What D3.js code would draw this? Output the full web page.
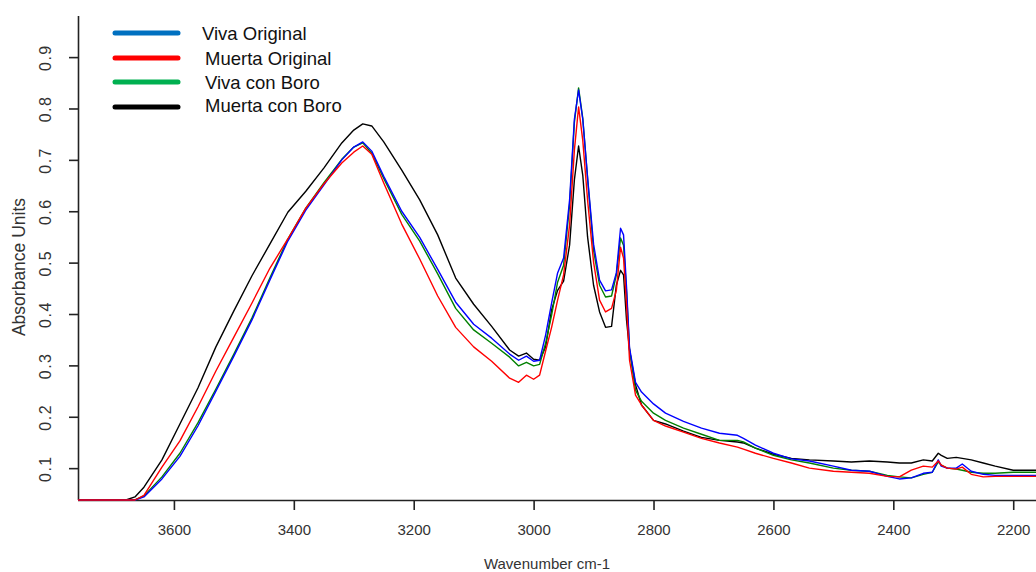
<!DOCTYPE html>
<html>
<head>
<meta charset="utf-8">
<script src="https://cdn.jsdelivr.net/npm/d3@7"></script>
<style>
  body { margin: 0; background: #fff; }
  text { font-family: "Liberation Sans", Arial, sans-serif; }
</style>
</head>
<body>
<div id="chart"></div>
<script>
// wavenumbers (cm-1) shared by all spectra
const wavenumbers = [3760, 3680, 3665, 3650, 3620, 3590, 3560, 3530, 3500, 3470, 3440, 3410, 3380, 3350, 3320, 3300, 3285, 3270, 3250, 3220, 3190, 3160, 3130, 3100, 3070, 3040, 3025, 3012, 3000, 2990, 2980, 2970, 2960, 2950, 2940, 2932, 2925, 2918, 2910, 2900, 2890, 2880, 2870, 2862, 2855, 2850, 2845, 2840, 2830, 2820, 2800, 2780, 2750, 2720, 2690, 2660, 2650, 2630, 2600, 2570, 2540, 2500, 2470, 2440, 2410, 2390, 2370, 2350, 2335, 2325, 2320, 2310, 2295, 2285, 2270, 2250, 2230, 2200, 2162];

const vivaOriginal = [0.038, 0.038, 0.038, 0.044, 0.079, 0.123, 0.182, 0.250, 0.318, 0.388, 0.466, 0.542, 0.602, 0.651, 0.700, 0.725, 0.735, 0.717, 0.668, 0.600, 0.549, 0.487, 0.423, 0.380, 0.353, 0.322, 0.310, 0.318, 0.308, 0.310, 0.359, 0.421, 0.480, 0.509, 0.622, 0.779, 0.836, 0.779, 0.666, 0.536, 0.466, 0.445, 0.447, 0.480, 0.567, 0.554, 0.452, 0.334, 0.267, 0.248, 0.225, 0.207, 0.191, 0.178, 0.168, 0.164, 0.158, 0.145, 0.129, 0.118, 0.114, 0.104, 0.096, 0.094, 0.084, 0.079, 0.081, 0.090, 0.092, 0.116, 0.104, 0.100, 0.100, 0.108, 0.094, 0.088, 0.086, 0.086, 0.086];

const muertaOriginal = [0.038, 0.038, 0.038, 0.047, 0.102, 0.153, 0.219, 0.289, 0.355, 0.421, 0.489, 0.546, 0.606, 0.653, 0.694, 0.715, 0.727, 0.711, 0.655, 0.575, 0.507, 0.435, 0.374, 0.336, 0.308, 0.275, 0.267, 0.281, 0.273, 0.281, 0.328, 0.374, 0.427, 0.476, 0.573, 0.719, 0.803, 0.738, 0.622, 0.501, 0.427, 0.404, 0.411, 0.446, 0.530, 0.509, 0.417, 0.310, 0.242, 0.223, 0.193, 0.182, 0.170, 0.158, 0.149, 0.141, 0.137, 0.129, 0.119, 0.110, 0.100, 0.094, 0.092, 0.090, 0.084, 0.083, 0.096, 0.104, 0.102, 0.114, 0.106, 0.100, 0.098, 0.102, 0.088, 0.083, 0.084, 0.084, 0.084];

const vivaBoro = [0.038, 0.038, 0.038, 0.046, 0.083, 0.129, 0.188, 0.254, 0.322, 0.392, 0.470, 0.546, 0.606, 0.655, 0.701, 0.725, 0.733, 0.713, 0.664, 0.594, 0.542, 0.478, 0.411, 0.369, 0.343, 0.316, 0.299, 0.306, 0.299, 0.302, 0.343, 0.398, 0.462, 0.495, 0.612, 0.773, 0.840, 0.781, 0.664, 0.524, 0.456, 0.433, 0.435, 0.476, 0.548, 0.534, 0.443, 0.330, 0.252, 0.230, 0.207, 0.193, 0.178, 0.166, 0.154, 0.154, 0.151, 0.139, 0.125, 0.116, 0.110, 0.100, 0.096, 0.094, 0.086, 0.083, 0.081, 0.088, 0.092, 0.112, 0.106, 0.100, 0.098, 0.096, 0.092, 0.090, 0.090, 0.092, 0.092];

const muertaBoro = [0.038, 0.038, 0.044, 0.063, 0.116, 0.186, 0.256, 0.336, 0.406, 0.474, 0.536, 0.598, 0.639, 0.684, 0.733, 0.758, 0.770, 0.766, 0.735, 0.680, 0.622, 0.554, 0.470, 0.419, 0.376, 0.330, 0.318, 0.324, 0.312, 0.310, 0.336, 0.408, 0.446, 0.464, 0.534, 0.661, 0.727, 0.670, 0.550, 0.456, 0.404, 0.374, 0.376, 0.456, 0.485, 0.476, 0.388, 0.330, 0.262, 0.223, 0.193, 0.186, 0.172, 0.160, 0.154, 0.151, 0.149, 0.139, 0.127, 0.119, 0.116, 0.114, 0.112, 0.114, 0.112, 0.110, 0.110, 0.116, 0.114, 0.129, 0.125, 0.119, 0.121, 0.119, 0.116, 0.110, 0.104, 0.096, 0.096];

const seriesNames = ["Viva Original", "Muerta Original", "Viva con Boro", "Muerta con Boro"];
const legendColors = ["#0070C0", "#FF0000", "#00B050", "#000000"];
const lineColors = ["#0000FF", "#FF0000", "#008000", "#000000"];
const yTicks = [0.1, 0.2, 0.3, 0.4, 0.5, 0.6, 0.7, 0.8, 0.9];
const xTicks = [3600, 3400, 3200, 3000, 2800, 2600, 2400, 2200];

const fullWidth = 1036, fullHeight = 572;
const plot = { left: 78, right: 1036, top: 16, bottom: 500 };

const svg = d3.select("#chart")
  .append("svg")
  .attr("width", fullWidth)
  .attr("height", fullHeight);

const x = d3.scaleLinear().domain([3760, 2162]).range([plot.left, plot.right]);
const y = d3.scaleLinear().domain([0.038, 0.98]).range([plot.bottom, plot.top]);

svg.append("defs").append("clipPath").attr("id", "plotclip")
  .append("rect")
  .attr("x", plot.left).attr("y", plot.top - 5)
  .attr("width", plot.right - plot.left).attr("height", plot.bottom - plot.top + 6);

// x axis
const xAxis = svg.append("g")
  .attr("transform", `translate(0,${plot.bottom})`)
  .call(d3.axisBottom(x).tickValues(xTicks).tickSize(10).tickPadding(14).tickFormat(d3.format("d")));
xAxis.select(".domain").attr("d", `M${plot.left},0.5H${plot.right}`).attr("stroke", "#222").attr("stroke-width", 1.6);
xAxis.selectAll(".tick line").attr("stroke", "#222").attr("stroke-width", 1.6);
xAxis.selectAll(".tick text")
  .attr("fill", "#333")
  .style("font-size", "15px")
  .style("font-family", "'Liberation Sans', Arial, sans-serif");

// y axis with rotated labels
const yAxis = svg.append("g")
  .attr("transform", `translate(${plot.left},0)`)
  .call(d3.axisLeft(y).tickValues(yTicks).tickSize(9).tickFormat(d3.format(".1f")));
yAxis.select(".domain").attr("d", `M0.5,${plot.bottom}V${plot.top}`).attr("stroke", "#222").attr("stroke-width", 1.6);
yAxis.selectAll(".tick line").attr("stroke", "#222").attr("stroke-width", 1.6);
yAxis.selectAll(".tick text")
  .attr("x", null).attr("dy", null)
  .attr("transform", "translate(-33,0) rotate(-90)")
  .attr("text-anchor", "middle")
  .attr("dominant-baseline", "central")
  .attr("fill", "#333")
  .style("font-size", "16px")
  .style("letter-spacing", "1.5px")
  .style("font-family", "'Liberation Sans', Arial, sans-serif");

// spectra drawn over the axes: black first, red last (red sits on the baseline)
const spectra = [vivaOriginal, muertaOriginal, vivaBoro, muertaBoro];
const order = [3, 2, 0, 1];
const line = d3.line()
  .x((d, i) => x(wavenumbers[i]))
  .y(d => y(d));

svg.append("g")
  .attr("clip-path", "url(#plotclip)")
  .selectAll("path")
  .data(order)
  .enter()
  .append("path")
  .attr("d", k => line(spectra[k]))
  .attr("fill", "none")
  .attr("stroke", k => lineColors[k])
  .attr("stroke-width", 1.4)
  .attr("stroke-linejoin", "round");

// axis titles
svg.append("text")
  .attr("x", 547)
  .attr("y", 563)
  .attr("text-anchor", "middle")
  .attr("dominant-baseline", "central")
  .attr("fill", "#333")
  .style("font-size", "15px")
  .text("Wavenumber cm-1");

svg.append("text")
  .attr("transform", "translate(19,267) rotate(-90)")
  .attr("text-anchor", "middle")
  .attr("dominant-baseline", "central")
  .attr("fill", "#333")
  .style("font-size", "17.5px")
  .text("Absorbance Units");

// legend
const legendLineY = [33, 58, 82, 107];
const legendTextY = [33, 58, 82, 105];
const legendTextX = [202, 205, 205, 205];
const legend = svg.append("g");
legend.selectAll("line")
  .data(seriesNames)
  .enter()
  .append("line")
  .attr("x1", 115).attr("x2", 178)
  .attr("y1", (d, i) => legendLineY[i]).attr("y2", (d, i) => legendLineY[i])
  .attr("stroke", (d, i) => legendColors[i])
  .attr("stroke-width", 5)
  .attr("stroke-linecap", "round");
legend.selectAll("text")
  .data(seriesNames)
  .enter()
  .append("text")
  .attr("x", (d, i) => legendTextX[i])
  .attr("y", (d, i) => legendTextY[i])
  .attr("dominant-baseline", "central")
  .attr("fill", "#111")
  .style("font-family", "'Liberation Sans', Arial, sans-serif")
  .style("font-size", "18.5px")
  .text(d => d);
</script>
</body>
</html>
